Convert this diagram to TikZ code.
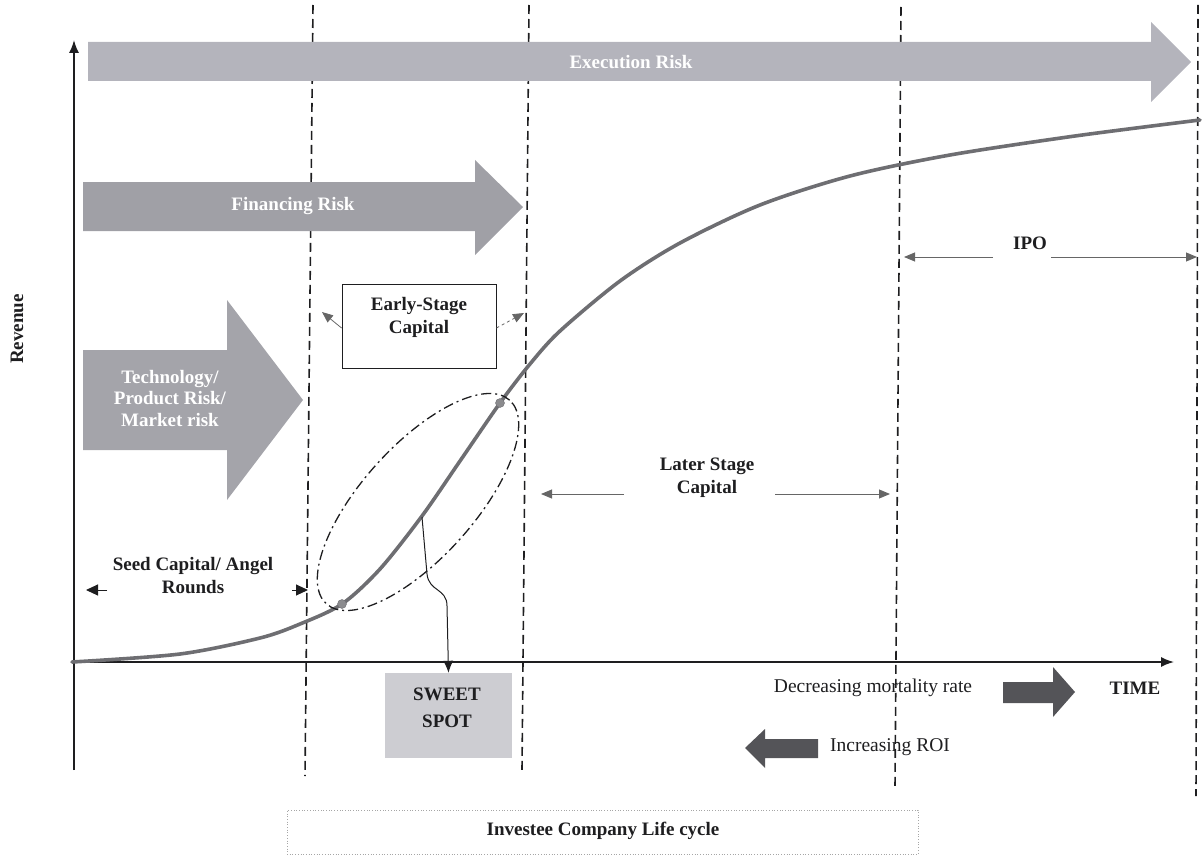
\documentclass[tikz,border=0pt]{standalone}
\usepackage{fontspec}
\setmainfont{Liberation Serif}
\usetikzlibrary{arrows.meta,calc}

\definecolor{execgray}{RGB}{180,180,188}
\definecolor{fingray}{RGB}{160,160,166}
\definecolor{techgray}{RGB}{164,164,170}
\definecolor{darkarrow}{RGB}{84,84,88}
\definecolor{sweetgray}{RGB}{205,205,210}
\definecolor{curvegray}{RGB}{110,110,114}
\definecolor{ink}{RGB}{30,30,32}

\begin{document}
\begin{tikzpicture}[x=1pt,y=1pt,
  lbl/.style={font=\fontsize{19}{23}\selectfont\bfseries, align=center, text=ink, inner sep=0pt},
  plain/.style={font=\fontsize{19.5}{23}\selectfont, text=ink, inner sep=0pt},
  risk/.style={font=\fontsize{19}{21.5}\selectfont\bfseries, align=center, text=white, inner sep=0pt},
  vline/.style={line width=1.6pt, dash pattern=on 9pt off 5pt, ink},
  axis/.style={line width=1.6pt, ink, -{Latex[length=13pt,width=10pt]}},
  span/.style={line width=0.9pt, black!60, -{Triangle[length=11pt,width=9pt]}},
  darkspan/.style={line width=1pt, ink, -{Triangle[length=12pt,width=11pt]}},
  dot/.style={circle, fill=curvegray!80, draw=curvegray, inner sep=0pt, minimum size=9pt}
]
\useasboundingbox (0,0) rectangle (1202,-856);

% stage boundaries
\coordinate (d1t) at (313,-5);   \coordinate (d1b) at (305,-776);
\coordinate (d2t) at (529,-5);   \coordinate (d2b) at (522,-770);
\coordinate (d3t) at (901,-7);   \coordinate (d3b) at (895,-787);
\coordinate (d4t) at (1198,-5);  \coordinate (d4b) at (1196,-796);
\draw[vline] (d1t) -- (d1b);
\draw[vline] (d2t) -- (d2b);
\draw[vline] (d3t) -- (d3b);
\draw[vline] (d4t) -- (d4b);

% risk arrows
\fill[execgray] (88,-42) -- (1151,-42) -- (1151,-22) -- (1191,-62) -- (1151,-102) -- (1151,-81) -- (88,-81) -- cycle;
\node[risk] (exec) at (631,-62) {Execution Risk};

\fill[fingray] (83,-182) -- (475,-182) -- (475,-160) -- (523,-207) -- (475,-255) -- (475,-231) -- (83,-231) -- cycle;
\node[risk] (fin) at (293,-206) {Financing Risk};

\fill[techgray] (83,-350) -- (227,-350) -- (227,-300) -- (303,-400) -- (227,-500) -- (227,-450) -- (83,-450) -- cycle;
\node[risk] (tech) at (170,-398) {Technology/\\Product Risk/\\Market risk};

% axes
\coordinate (ybot) at (74,-770);
\coordinate (ytop) at (74,-40);
\coordinate (xbeg) at (72,-662);
\coordinate (xend) at (1174,-662);
\draw[axis] (ybot) -- (ytop);
\draw[axis] (xbeg) -- (xend);
\node[lbl, rotate=90] (revenue) at (17,-329) {Revenue};

% revenue curve
\draw[curvegray, line width=3.6pt, line cap=round] plot[smooth, tension=0.5] coordinates {
  (72,-662) (180,-654) (260,-638) (300,-624) (342,-604) (380,-569)
  (422,-516) (460,-461) (500,-403) (530,-364) (560,-331) (620,-281)
  (680,-243) (760,-205) (850,-176) (950,-155) (1075,-136) (1200,-120)};

% sweet spot region
\draw[ink, line width=1.3pt, dash pattern=on 10pt off 4pt on 2pt off 4pt]
  (418,-502) ellipse [x radius=137, y radius=56, rotate=48];
\node[dot] (p1) at (342,-604) {};
\node[dot] (p2) at (500,-403) {};

% early stage box
\node[draw=ink, line width=0.9pt, minimum width=154pt, minimum height=84pt, inner sep=0pt] (earlybox) at (419,-326) {};
\node[lbl] (early) at (419,-317) {Early-Stage\\Capital};
\coordinate (ea1) at (322,-312);
\coordinate (ea2) at (524,-313);
\draw[span, line width=0.8pt] (earlybox.west |- 0,-328) -- (ea1);
\draw[span, line width=0.8pt, dashed] (earlybox.east |- 0,-328) -- (ea2);

% seed capital
\node[lbl] (seed) at (193,-576) {Seed Capital/ Angel\\Rounds};
\coordinate (s1a) at (107,-590); \coordinate (s1b) at (86,-590);
\coordinate (s2a) at (292,-590); \coordinate (s2b) at (308,-590);
\draw[darkspan] (s1a) -- (s1b);
\draw[darkspan] (s2a) -- (s2b);

% later stage capital
\node[lbl] (later) at (707,-478) {Later Stage\\Capital};
\coordinate (l1a) at (624,-494); \coordinate (l1b) at (541,-494);
\coordinate (l2a) at (775,-494); \coordinate (l2b) at (890,-494);
\draw[span] (l1a) -- (l1b);
\draw[span] (l2a) -- (l2b);

% IPO
\node[lbl] (ipo) at (1030,-243) {IPO};
\coordinate (i1a) at (993,-257); \coordinate (i1b) at (904,-257);
\coordinate (i2a) at (1051,-257); \coordinate (i2b) at (1197,-257);
\draw[span] (i1a) -- (i1b);
\draw[span] (i2a) -- (i2b);

% sweet spot
\node[fill=sweetgray, minimum width=127pt, minimum height=85pt, inner sep=0pt] (sweetbox) at (448.5,-715.5) {};
\node[lbl, font=\fontsize{19}{27}\selectfont\bfseries] (sweet) at (447,-708) {SWEET\\SPOT};
\coordinate (c0) at (422,-517);
\draw[ink, line width=1pt, -{Latex[length=12pt,width=10pt]}]
  (c0) -- (427,-574) .. controls (429,-592) and (447,-588) .. (447,-606) -- (sweetbox.north);

% mortality and ROI
\node[plain] (mort) at (873,-688) {Decreasing mortality rate};
\fill[darkarrow] (1003,-682) -- (1053,-682) -- (1053,-667) -- (1075,-692) -- (1053,-717) -- (1053,-703) -- (1003,-703) -- cycle;
\node[lbl] (time) at (1135,-688) {TIME};
\fill[darkarrow] (818,-739) -- (765,-739) -- (765,-729) -- (745,-748) -- (765,-768) -- (765,-758) -- (818,-758) -- cycle;
\node[plain] (roi) at (890,-747) {Increasing ROI};

% caption
\node[draw=black!35, dotted, line width=0.7pt, minimum width=631pt, minimum height=44pt, inner sep=0pt] (capbox) at (602.5,-832) {};
\node[lbl] (caption) at (603,-831) {Investee Company Life cycle};
\end{tikzpicture}
\end{document}
